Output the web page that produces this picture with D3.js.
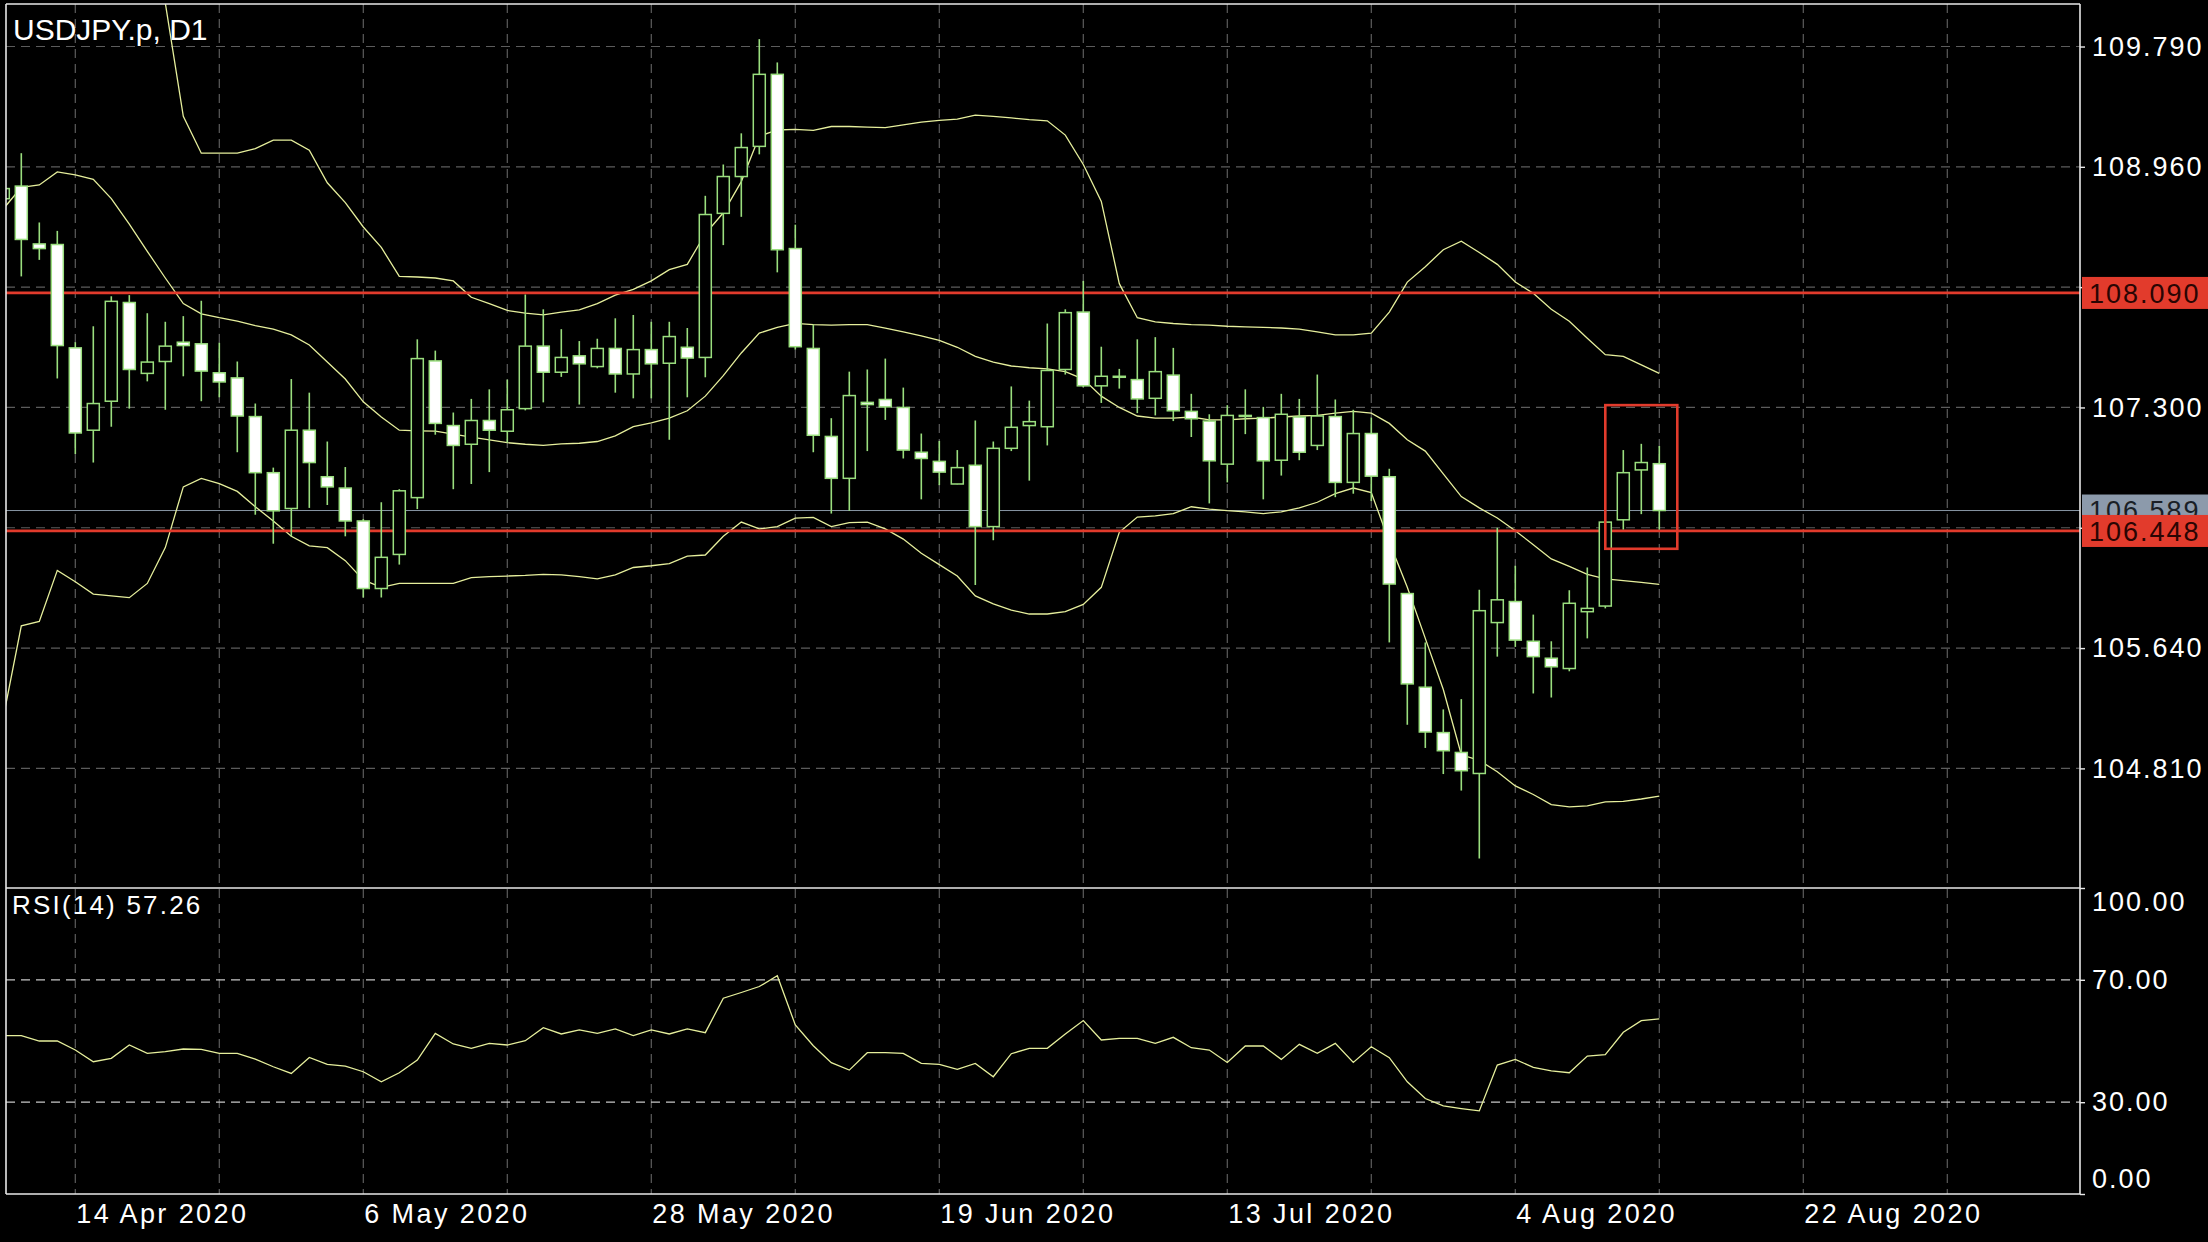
<!DOCTYPE html>
<html><head><meta charset="utf-8">
<script src="https://cdn.jsdelivr.net/npm/d3@7"></script>
<style>html,body{margin:0;padding:0;background:#000;overflow:hidden}svg{display:block}</style>
</head><body><svg id="chart" width="2208" height="1242"></svg>
<script>
// ---------- DATA ----------
const dates = [
"2020-04-08","2020-04-09","2020-04-10","2020-04-13","2020-04-14","2020-04-15","2020-04-16","2020-04-17","2020-04-20","2020-04-21","2020-04-22","2020-04-23","2020-04-24","2020-04-27","2020-04-28","2020-04-29","2020-04-30",
"2020-05-01","2020-05-04","2020-05-05","2020-05-06","2020-05-07","2020-05-08","2020-05-11","2020-05-12","2020-05-13","2020-05-14","2020-05-15","2020-05-18","2020-05-19","2020-05-20","2020-05-21","2020-05-22","2020-05-25","2020-05-26","2020-05-27","2020-05-28","2020-05-29",
"2020-06-01","2020-06-02","2020-06-03","2020-06-04","2020-06-05","2020-06-08","2020-06-09","2020-06-10","2020-06-11","2020-06-12","2020-06-15","2020-06-16","2020-06-17","2020-06-18","2020-06-19","2020-06-22","2020-06-23","2020-06-24","2020-06-25","2020-06-26","2020-06-29","2020-06-30",
"2020-07-01","2020-07-02","2020-07-03","2020-07-06","2020-07-07","2020-07-08","2020-07-09","2020-07-10","2020-07-13","2020-07-14","2020-07-15","2020-07-16","2020-07-17","2020-07-20","2020-07-21","2020-07-22","2020-07-23","2020-07-24","2020-07-27","2020-07-28","2020-07-29","2020-07-30","2020-07-31",
"2020-08-03","2020-08-04","2020-08-05","2020-08-06","2020-08-07","2020-08-10","2020-08-11","2020-08-12","2020-08-13","2020-08-14"];

const opens = [108.740,108.827,108.428,108.424,107.711,107.143,107.343,108.024,107.535,107.617,107.750,107.739,107.539,107.504,107.237,106.850,106.603,
107.143,106.822,106.744,106.517,106.051,106.286,106.678,107.621,107.175,107.046,107.210,107.136,107.292,107.723,107.543,107.656,107.582,107.707,107.531,107.699,107.605,
107.715,107.645,108.639,108.893,109.101,109.598,108.396,107.707,107.100,106.811,107.335,107.355,107.300,106.991,106.928,106.772,106.901,106.478,107.018,107.175,107.167,107.562,
107.958,107.449,107.511,107.492,107.363,107.523,107.273,107.206,106.909,107.241,107.230,106.936,107.234,107.038,107.237,106.783,107.120,106.822,106.016,105.370,105.057,104.920,104.775,
105.816,105.961,105.687,105.570,105.499,105.891,105.930,106.525,106.869,106.912];
const highs = [108.900,109.054,108.576,108.518,107.750,107.860,108.067,108.075,107.950,107.891,107.930,108.036,107.746,107.617,107.327,106.885,107.496,
107.402,107.065,106.889,106.530,106.646,106.736,107.770,107.692,107.265,107.359,107.425,107.492,108.079,107.977,107.840,107.758,107.774,107.915,107.938,107.891,107.891,
107.848,108.760,108.976,109.191,109.841,109.680,108.561,107.872,107.226,107.547,107.562,107.637,107.437,107.120,107.069,107.006,107.210,107.065,107.445,107.347,107.879,107.977,
108.173,107.719,107.566,107.770,107.785,107.711,107.394,107.253,107.316,107.425,107.304,107.394,107.359,107.527,107.355,107.284,107.230,106.877,106.020,105.679,105.217,105.288,106.043,
106.470,106.208,105.871,105.687,106.039,106.196,106.520,107.006,107.049,107.034];
const lows = [108.620,108.204,108.318,107.500,106.979,106.920,107.167,107.292,107.480,107.284,107.515,107.343,107.370,106.991,106.560,106.360,106.411,
106.607,106.627,106.411,105.989,105.989,106.216,106.599,107.112,106.736,106.772,106.854,107.057,107.280,107.335,107.511,107.320,107.570,107.402,107.363,107.363,107.077,
107.370,107.508,108.420,108.615,109.046,108.232,107.700,106.991,106.568,106.587,106.999,107.214,106.948,106.666,106.764,106.770,106.075,106.384,106.999,106.795,107.038,107.527,
107.440,107.331,107.430,107.261,107.245,107.206,107.096,106.638,106.783,107.116,106.666,106.830,106.936,107.006,106.681,106.705,106.654,105.679,105.111,104.951,104.771,104.657,104.188,
105.581,105.648,105.327,105.299,105.480,105.707,105.914,106.458,106.564,106.458];
const closes = [108.810,108.459,108.396,107.727,107.124,107.327,108.032,107.562,107.613,107.723,107.727,107.551,107.476,107.241,106.850,106.587,107.143,
106.920,106.752,106.517,106.051,106.266,106.725,107.637,107.190,107.038,107.210,107.143,107.284,107.723,107.543,107.645,107.601,107.707,107.531,107.699,107.601,107.789,
107.641,108.631,108.893,109.093,109.598,108.388,107.719,107.108,106.811,107.382,107.320,107.304,107.006,106.948,106.854,106.885,106.478,107.018,107.163,107.202,107.555,107.954,
107.449,107.515,107.515,107.359,107.547,107.277,107.222,106.932,107.245,107.245,106.932,107.253,106.991,107.241,106.783,107.120,106.826,106.082,105.393,105.061,104.932,104.794,105.898,
105.973,105.695,105.581,105.511,105.949,105.914,106.509,106.850,106.920,106.589];

const bbUpper = [111.20,111.20,111.10,111.00,110.90,110.80,110.75,110.70,110.60,110.09,109.308,109.054,109.054,109.054,109.085,109.144,109.144,
109.074,108.850,108.713,108.545,108.404,108.204,108.200,108.193,108.173,108.060,108.016,107.969,107.950,107.938,107.958,107.973,108.016,108.075,108.114,108.173,108.251,
108.287,108.498,108.643,108.858,109.171,109.214,109.218,109.211,109.238,109.238,109.234,109.230,109.250,109.269,109.281,109.289,109.316,109.308,109.297,109.285,109.277,109.179,
108.976,108.721,108.154,107.919,107.891,107.879,107.872,107.868,107.860,107.856,107.852,107.848,107.840,107.821,107.801,107.801,107.813,107.958,108.165,108.271,108.388,108.447,108.369,
108.287,108.165,108.087,107.977,107.895,107.778,107.664,107.652,107.594,107.535];
const bbMiddle = [108.670,108.819,108.835,108.925,108.905,108.874,108.741,108.565,108.377,108.193,108.017,107.946,107.919,107.895,107.864,107.840,107.801,
107.731,107.613,107.496,107.339,107.234,107.143,107.139,107.136,107.116,107.096,107.077,107.057,107.046,107.038,107.049,107.053,107.065,107.104,107.167,107.194,107.226,
107.277,107.378,107.519,107.676,107.813,107.852,107.880,107.872,107.868,107.872,107.872,107.848,107.821,107.793,107.762,107.715,107.652,107.613,107.586,107.574,107.566,107.547,
107.496,107.378,107.300,107.241,107.226,107.226,107.234,107.214,107.214,107.222,107.226,107.234,107.241,107.245,107.261,107.273,107.261,107.190,107.077,106.999,106.842,106.685,106.607,
106.537,106.450,106.353,106.255,106.204,106.149,106.118,106.106,106.094,106.079];
const bbLower = [105.162,105.793,105.824,106.176,106.098,106.012,106.000,105.988,106.086,106.333,106.752,106.811,106.775,106.721,106.615,106.517,106.411,
106.345,106.333,106.243,106.110,106.059,106.086,106.086,106.086,106.086,106.126,106.133,106.137,106.141,106.149,106.145,106.133,106.118,106.145,106.196,106.208,106.223,
106.274,106.282,106.411,106.509,106.462,106.478,106.537,106.541,106.478,106.505,106.509,106.462,106.392,106.294,106.216,106.137,106.000,105.945,105.902,105.875,105.875,105.891,
105.941,106.059,106.439,106.544,106.552,106.568,106.615,106.599,106.588,106.580,106.568,106.580,106.607,106.646,106.705,106.744,106.713,106.372,106.059,105.707,105.354,104.904,104.865,
104.787,104.689,104.630,104.560,104.544,104.552,104.579,104.583,104.599,104.618];

const rsi = [51.75,51.75,50.00,50.00,47.05,43.22,44.32,48.69,45.96,46.50,47.38,47.27,45.96,45.96,44.10,41.58,39.40,
44.64,42.35,41.80,39.95,36.67,39.62,43.77,52.51,49.02,47.60,49.23,48.69,50.11,54.37,52.30,53.61,52.51,53.93,51.75,53.61,52.30,
53.93,52.73,63.99,65.85,67.81,71.31,55.25,48.47,42.90,40.49,46.18,46.18,45.96,42.68,42.35,40.71,42.68,38.31,45.85,47.60,47.60,52.30,
56.67,50.33,50.87,50.87,49.23,51.20,47.81,47.05,43.00,48.36,48.36,43.99,48.91,45.96,49.23,43.00,48.14,44.54,36.67,31.20,28.80,27.92,27.16,
42.13,43.99,41.37,40.27,39.62,45.08,45.52,52.84,56.67,57.26];

const symbolTitle = "USDJPY.p, D1";
const rsiTitle = "RSI(14) 57.26";
const priceTicks = [109.790, 108.960, 108.130, 107.300, 106.470, 105.640, 104.810];
const rsiTicks = [100, 70, 30, 0];
const rsiLevels = [70, 30];
const dateTickLabels = ["14 Apr 2020","6 May 2020","28 May 2020","19 Jun 2020","13 Jul 2020","4 Aug 2020","22 Aug 2020"];
const firstTickDate = "2020-04-14";
const levelLines = [108.090, 106.448];
const bidPrice = 106.589;
const zoneStart = "2020-08-11", zoneBars = 4, zoneHigh = 107.316, zoneLow = 106.325;

// ---------- LAYOUT ----------
const W = 2208, H = 1242;
const L = 6, R = 2080, T = 4, MB = 888, RB = 1194;
const FONT = "'Liberation Sans', Arial, sans-serif";
const GREEN = "#9ade7e", BAND = "#e6ef9c", RED = "#e23b2c", GRID = "#5c5c5c";

const svg = d3.select("#chart");
svg.append("rect").attr("width", W).attr("height", H).attr("fill", "#000");

const n = dates.length;
const x = d3.scaleLinear().domain([0, n - 1]).range([3.3, 3.3 + 18 * (n - 1)]);
const y = d3.scaleLinear().domain([104.81, 109.79]).range([768.4, 46.5]);
const yr = d3.scaleLinear().domain([0, 100]).range([RB, MB]);

const defs = svg.append("defs");
defs.append("clipPath").attr("id", "clipMain").append("rect").attr("x", L).attr("y", T).attr("width", R - L).attr("height", MB - T);
defs.append("clipPath").attr("id", "clipRsi").append("rect").attr("x", L).attr("y", MB).attr("width", R - L).attr("height", RB - MB);

// vertical grid positions (every 8 bars from first tick date)
const t0 = dates.indexOf(firstTickDate);
const gridIdx = [];
for (let i = t0; x(i) < R - 2; i += 8) gridIdx.push(i);

const grid = svg.append("g");
grid.selectAll("line.v").data(gridIdx).join("line")
  .attr("x1", d => x(d)).attr("x2", d => x(d)).attr("y1", T).attr("y2", RB)
  .attr("stroke", GRID).attr("stroke-width", 1.2).attr("stroke-dasharray", "9,6");
grid.selectAll("line.h").data(priceTicks).join("line")
  .attr("x1", L).attr("x2", R).attr("y1", d => y(d)).attr("y2", d => y(d))
  .attr("stroke", GRID).attr("stroke-width", 1.2).attr("stroke-dasharray", "9,6");
grid.selectAll("line.r").data(rsiLevels).join("line")
  .attr("x1", L).attr("x2", R).attr("y1", d => yr(d)).attr("y2", d => yr(d))
  .attr("stroke", "#c8c8c8").attr("stroke-width", 1.2).attr("stroke-dasharray", "9,6");

// main panel content
const main = svg.append("g").attr("clip-path", "url(#clipMain)");

// bid line
main.append("line").attr("x1", L).attr("x2", R).attr("y1", y(bidPrice)).attr("y2", y(bidPrice))
  .attr("stroke", "#8795a3").attr("stroke-width", 1);

// bollinger bands
const lineGen = arr => d3.line().x((d, i) => x(i)).y(d => y(d))(arr);
[bbUpper, bbMiddle, bbLower].forEach(arr => {
  main.append("path").attr("d", lineGen(arr)).attr("fill", "none").attr("stroke", BAND).attr("stroke-width", 1.3);
});

// level lines
main.selectAll("line.lvl").data(levelLines).join("line")
  .attr("x1", L).attr("x2", R).attr("y1", d => y(d)).attr("y2", d => y(d))
  .attr("stroke", RED).attr("stroke-width", 2.8);

// candles
const candles = d3.range(n).map(i => ({i, o: opens[i], h: highs[i], l: lows[i], c: closes[i]}));
const cg = main.append("g");
cg.selectAll("line.wick").data(candles).join("line")
  .attr("x1", d => x(d.i)).attr("x2", d => x(d.i))
  .attr("y1", d => y(d.h)).attr("y2", d => y(d.l))
  .attr("stroke", GREEN).attr("stroke-width", 1.6);
const bw = 12;
cg.selectAll("rect.body").data(candles).join("rect")
  .attr("x", d => x(d.i) - bw / 2).attr("width", bw)
  .attr("y", d => y(Math.max(d.o, d.c)))
  .attr("height", d => Math.max(1, Math.abs(y(d.o) - y(d.c))))
  .attr("fill", d => d.c >= d.o ? "#000" : "#ffffff")
  .attr("stroke", GREEN).attr("stroke-width", 1.5);

// zone rectangle
const zi = dates.indexOf(zoneStart);
main.append("rect")
  .attr("x", x(zi)).attr("width", x(zi + zoneBars) - x(zi))
  .attr("y", y(zoneHigh)).attr("height", y(zoneLow) - y(zoneHigh))
  .attr("fill", "none").attr("stroke", RED).attr("stroke-width", 2.6);

// RSI
const rg = svg.append("g").attr("clip-path", "url(#clipRsi)");
rg.append("path").attr("d", d3.line().x((d, i) => x(i)).y(d => yr(d))(rsi))
  .attr("fill", "none").attr("stroke", BAND).attr("stroke-width", 1.3);

// borders
const bc = "#e8e8e8";
const borders = [[L, T, R, T], [L, T, L, RB], [R, T, R, RB], [L, MB, R, MB], [L, RB, R, RB]];
svg.selectAll("line.border").data(borders).join("line")
  .attr("x1", d => d[0]).attr("y1", d => d[1]).attr("x2", d => d[2]).attr("y2", d => d[3])
  .attr("stroke", bc).attr("stroke-width", 1.6);

// price axis (labels hidden where a price tag covers them, as in the terminal)
const covered = p => levelLines.concat([bidPrice]).some(q => Math.abs(y(q) - y(p)) < 26);
const pa = svg.append("g").attr("transform", `translate(${R},0)`)
  .call(d3.axisRight(y).tickValues(priceTicks).tickFormat(p => covered(p) ? "" : d3.format(".3f")(p)).tickSize(5).tickPadding(7));
pa.select(".domain").remove();
pa.selectAll(".tick line").attr("stroke", bc).attr("stroke-width", 1.4);
pa.selectAll(".tick text").attr("fill", "#fff").attr("font-family", FONT).attr("font-size", 27)
  .attr("letter-spacing", "2px");

// RSI axis
const ra = svg.append("g").attr("transform", `translate(${R},0)`)
  .call(d3.axisRight(yr).tickValues(rsiTicks).tickFormat(d3.format(".2f")).tickSize(5).tickPadding(7));
ra.select(".domain").remove();
ra.selectAll(".tick line").attr("stroke", bc).attr("stroke-width", 1.4);
ra.selectAll(".tick text").attr("fill", "#fff").attr("font-family", FONT).attr("font-size", 27)
  .attr("letter-spacing", "2px")
  .attr("dy", d => d === 100 ? "0.85em" : d === 0 ? "-0.25em" : "0.32em");

// price labels (bid, levels)
function priceLabel(p, bg, fg) {
  const g = svg.append("g");
  g.append("rect").attr("x", R + 2).attr("y", y(p) - 16).attr("width", W - R - 2).attr("height", 32).attr("fill", bg);
  g.append("text").attr("x", R + 9).attr("y", y(p)).attr("dy", "0.36em").attr("fill", fg)
    .attr("font-family", FONT).attr("font-size", 27).attr("letter-spacing", "2px").text(d3.format(".3f")(p));
}
priceLabel(bidPrice, "#8c9aab", "#1a1f26");
levelLines.forEach(p => priceLabel(p, RED, "#2a0503"));

// date axis labels
const labelIdx = dateTickLabels.map((s, k) => t0 + 16 * k);
svg.selectAll("text.date").data(labelIdx).join("text")
  .attr("x", d => x(d) + 1).attr("y", 1223)
  .attr("fill", "#fff").attr("font-family", FONT).attr("font-size", 27).attr("letter-spacing", "2.4px")
  .text((d, k) => dateTickLabels[k]);

// titles
svg.append("text").attr("x", 13).attr("y", 40).attr("fill", "#fff").attr("font-family", FONT)
  .attr("font-size", 30).text(symbolTitle);
svg.append("text").attr("x", 12).attr("y", 914).attr("fill", "#fff").attr("font-family", FONT)
  .attr("font-size", 26).attr("letter-spacing", "2.2px").text(rsiTitle);
</script>
</body></html>
